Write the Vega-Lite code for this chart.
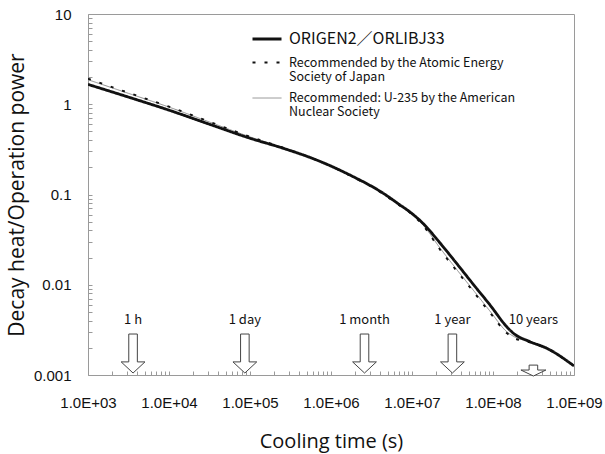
{
  "$schema": "https://vega.github.io/schema/vega-lite/v6.json",
  "width": 486,
  "height": 361,
  "autosize": {"type": "none"},
  "padding": {"left": 88, "top": 14, "right": 31, "bottom": 79},
  "background": "white",
  "config": {
    "view": {"stroke": "#9a9a9a", "strokeWidth": 1},
    "font": "Noto Sans CJK JP",
    "style": {"guide-label": {"lineHeight": 14}}
  },
  "datasets": {
    "curves": [
      {"series": "Recommended: U-235 by the American Nuclear Society", "t": 1000, "v": 1.87},
      {"series": "Recommended: U-235 by the American Nuclear Society", "t": 3162, "v": 1.32},
      {"series": "Recommended: U-235 by the American Nuclear Society", "t": 10000, "v": 0.93},
      {"series": "Recommended: U-235 by the American Nuclear Society", "t": 31623, "v": 0.635},
      {"series": "Recommended: U-235 by the American Nuclear Society", "t": 100000, "v": 0.435},
      {"series": "Recommended: U-235 by the American Nuclear Society", "t": 258000, "v": 0.328},
      {"series": "Recommended: U-235 by the American Nuclear Society", "t": 665000, "v": 0.241},
      {"series": "Recommended: U-235 by the American Nuclear Society", "t": 1720000, "v": 0.163},
      {"series": "Recommended: U-235 by the American Nuclear Society", "t": 4430000, "v": 0.102},
      {"series": "Recommended: U-235 by the American Nuclear Society", "t": 7100000, "v": 0.0755},
      {"series": "Recommended: U-235 by the American Nuclear Society", "t": 9440000, "v": 0.0632},
      {"series": "Recommended: U-235 by the American Nuclear Society", "t": 13700000, "v": 0.046},
      {"series": "Recommended: U-235 by the American Nuclear Society", "t": 22200000, "v": 0.0255},
      {"series": "Recommended: U-235 by the American Nuclear Society", "t": 36000000, "v": 0.0146},
      {"series": "Recommended: U-235 by the American Nuclear Society", "t": 56600000, "v": 0.0088},
      {"series": "Recommended: U-235 by the American Nuclear Society", "t": 91800000, "v": 0.0051},
      {"series": "Recommended: U-235 by the American Nuclear Society", "t": 149000000, "v": 0.003},
      {"series": "Recommended: U-235 by the American Nuclear Society", "t": 177000000, "v": 0.0027},
      {"series": "Recommended: U-235 by the American Nuclear Society", "t": 286000000, "v": 0.00232},
      {"series": "Recommended: U-235 by the American Nuclear Society", "t": 460000000, "v": 0.00197},
      {"series": "Recommended: U-235 by the American Nuclear Society", "t": 1000000000, "v": 0.00126},
      {"series": "ORIGEN2／ORLIBJ33", "t": 1000, "v": 1.66},
      {"series": "ORIGEN2／ORLIBJ33", "t": 3162, "v": 1.2},
      {"series": "ORIGEN2／ORLIBJ33", "t": 10000, "v": 0.86},
      {"series": "ORIGEN2／ORLIBJ33", "t": 31623, "v": 0.6},
      {"series": "ORIGEN2／ORLIBJ33", "t": 100000, "v": 0.42},
      {"series": "ORIGEN2／ORLIBJ33", "t": 258000, "v": 0.325},
      {"series": "ORIGEN2／ORLIBJ33", "t": 665000, "v": 0.241},
      {"series": "ORIGEN2／ORLIBJ33", "t": 1720000, "v": 0.164},
      {"series": "ORIGEN2／ORLIBJ33", "t": 4430000, "v": 0.103},
      {"series": "ORIGEN2／ORLIBJ33", "t": 7100000, "v": 0.0766},
      {"series": "ORIGEN2／ORLIBJ33", "t": 9440000, "v": 0.064},
      {"series": "ORIGEN2／ORLIBJ33", "t": 13700000, "v": 0.0478},
      {"series": "ORIGEN2／ORLIBJ33", "t": 22200000, "v": 0.029},
      {"series": "ORIGEN2／ORLIBJ33", "t": 36000000, "v": 0.017},
      {"series": "ORIGEN2／ORLIBJ33", "t": 56600000, "v": 0.0102},
      {"series": "ORIGEN2／ORLIBJ33", "t": 91800000, "v": 0.00597},
      {"series": "ORIGEN2／ORLIBJ33", "t": 149000000, "v": 0.0034},
      {"series": "ORIGEN2／ORLIBJ33", "t": 177000000, "v": 0.00292},
      {"series": "ORIGEN2／ORLIBJ33", "t": 286000000, "v": 0.00234},
      {"series": "ORIGEN2／ORLIBJ33", "t": 460000000, "v": 0.00198},
      {"series": "ORIGEN2／ORLIBJ33", "t": 1000000000, "v": 0.00126},
      {"series": "Recommended by the Atomic Energy Society of Japan", "t": 1000, "v": 1.92},
      {"series": "Recommended by the Atomic Energy Society of Japan", "t": 3162, "v": 1.34},
      {"series": "Recommended by the Atomic Energy Society of Japan", "t": 10000, "v": 0.94},
      {"series": "Recommended by the Atomic Energy Society of Japan", "t": 31623, "v": 0.64},
      {"series": "Recommended by the Atomic Energy Society of Japan", "t": 100000, "v": 0.437},
      {"series": "Recommended by the Atomic Energy Society of Japan", "t": 258000, "v": 0.329},
      {"series": "Recommended by the Atomic Energy Society of Japan", "t": 665000, "v": 0.241},
      {"series": "Recommended by the Atomic Energy Society of Japan", "t": 1720000, "v": 0.162},
      {"series": "Recommended by the Atomic Energy Society of Japan", "t": 4430000, "v": 0.101},
      {"series": "Recommended by the Atomic Energy Society of Japan", "t": 7100000, "v": 0.075},
      {"series": "Recommended by the Atomic Energy Society of Japan", "t": 9440000, "v": 0.0628},
      {"series": "Recommended by the Atomic Energy Society of Japan", "t": 13700000, "v": 0.0455},
      {"series": "Recommended by the Atomic Energy Society of Japan", "t": 22200000, "v": 0.0245},
      {"series": "Recommended by the Atomic Energy Society of Japan", "t": 36000000, "v": 0.0141},
      {"series": "Recommended by the Atomic Energy Society of Japan", "t": 56600000, "v": 0.0085},
      {"series": "Recommended by the Atomic Energy Society of Japan", "t": 91800000, "v": 0.0049},
      {"series": "Recommended by the Atomic Energy Society of Japan", "t": 149000000, "v": 0.0029},
      {"series": "Recommended by the Atomic Energy Society of Japan", "t": 177000000, "v": 0.0026},
      {"series": "Recommended by the Atomic Energy Society of Japan", "t": 286000000, "v": 0.0023},
      {"series": "Recommended by the Atomic Energy Society of Japan", "t": 460000000, "v": 0.00196},
      {"series": "Recommended by the Atomic Energy Society of Japan", "t": 1000000000, "v": 0.00126}
    ],
    "marks": [
      {"t": 3600, "label": "1 h"},
      {"t": 86400, "label": "1 day"},
      {"t": 2592000, "label": "1 month"},
      {"t": 31536000, "label": "1 year"},
      {"t": 315360000, "label": "10 years"}
    ]
  },
  "layer": [
    {
      "data": {"name": "curves"},
      "mark": {"type": "line", "interpolate": "monotone", "clip": true},
      "encoding": {
        "x": {
          "field": "t",
          "type": "quantitative",
          "scale": {"type": "log", "domain": [1000, 1000000000]},
          "axis": {
            "orient": "bottom",
            "values": [1000,2000,3000,4000,5000,6000,7000,8000,9000,10000,20000,30000,40000,50000,60000,70000,80000,90000,100000,200000,300000,400000,500000,600000,700000,800000,900000,1000000,2000000,3000000,4000000,5000000,6000000,7000000,8000000,9000000,10000000,20000000,30000000,40000000,50000000,60000000,70000000,80000000,90000000,100000000,200000000,300000000,400000000,500000000,600000000,700000000,800000000,900000000,1000000000],
            "labelExpr": "abs(log(datum.value)/LN10 - round(log(datum.value)/LN10)) < 0.001 ? '1.0E+0' + round(log(datum.value)/LN10) : ''",
            "tickSize": -4,
            "tickColor": "#9a9a9a",
            "domain": false,
            "grid": false,
            "labelFlush": false,
            "labelOverlap": false,
            "labelFont": "Liberation Sans",
            "labelFontSize": 15,
            "labelColor": "#111111",
            "labelPadding": 24,
            "title": "Cooling time (s)",
            "titleFont": "Open Sans",
            "titleFontSize": 20,
            "titleFontWeight": "normal",
            "titleColor": "#111111",
            "titlePadding": 21
          }
        },
        "y": {
          "field": "v",
          "type": "quantitative",
          "scale": {"type": "log", "domain": [0.001, 10]},
          "axis": {
            "orient": "left",
            "values": [0.001,0.002,0.003,0.004,0.005,0.006,0.007,0.008,0.009,0.01,0.02,0.03,0.04,0.05,0.06,0.07,0.08,0.09,0.1,0.2,0.3,0.4,0.5,0.6,0.7,0.8,0.9,1,2,3,4,5,6,7,8,9,10],
            "labelExpr": "abs(log(datum.value)/LN10 - round(log(datum.value)/LN10)) < 0.001 ? format(datum.value, '~g') : ''",
            "tickSize": -4,
            "tickColor": "#9a9a9a",
            "domain": false,
            "grid": false,
            "labelFlush": false,
            "labelOverlap": false,
            "labelFont": "Liberation Sans",
            "labelFontSize": 15,
            "labelColor": "#111111",
            "labelPadding": 21,
            "title": "Decay heat/Operation power",
            "titleFont": "Open Sans",
            "titleFontSize": 21,
            "titleFontWeight": "normal",
            "titleColor": "#111111",
            "titlePadding": 6
          }
        },
        "color": {
          "field": "series",
          "type": "nominal",
          "scale": {
            "domain": ["ORIGEN2／ORLIBJ33", "Recommended by the Atomic Energy Society of Japan", "Recommended: U-235 by the American Nuclear Society"],
            "range": ["#111111", "#111111", "#8c8c8c"]
          },
          "legend": {
            "title": null,
            "orient": "none",
            "legendX": 163,
            "legendY": 9,
            "padding": 0,
            "symbolType": "stroke",
            "symbolSize": 841,
            "labelFont": "Noto Sans CJK JP",
            "labelFontSize": {"expr": "datum.value == 'ORIGEN2／ORLIBJ33' ? 16 : 12.5"},
            "labelColor": "#111111",
            "labelLimit": 400,
            "labelOffset": 6,
            "rowPadding": 0,
            "labelExpr": "datum.label == 'Recommended by the Atomic Energy Society of Japan' ? ['Recommended by the Atomic Energy', 'Society of Japan'] : datum.label == 'Recommended: U-235 by the American Nuclear Society' ? ['Recommended: U-235 by the American', 'Nuclear Society'] : datum.label"
          }
        },
        "strokeDash": {
          "field": "series",
          "type": "nominal",
          "scale": {
            "domain": ["ORIGEN2／ORLIBJ33", "Recommended by the Atomic Energy Society of Japan", "Recommended: U-235 by the American Nuclear Society"],
            "range": [[1, 0], [3, 9], [1, 0]]
          }
        },
        "strokeWidth": {
          "field": "series",
          "type": "nominal",
          "scale": {
            "type": "point",
            "domain": ["ORIGEN2／ORLIBJ33", "Recommended by the Atomic Energy Society of Japan", "Recommended: U-235 by the American Nuclear Society"],
            "range": [2.8, 1]
          }
        }
      }
    },
    {
      "data": {"name": "marks"},
      "transform": [{"filter": "datum.label != '10 years'"}],
      "mark": {
        "type": "point",
        "shape": "M -0.22 -1 L 0.22 -1 L 0.22 0.43 L 0.61 0.43 L 0 1 L -0.61 0.43 L -0.22 0.43 Z",
        "size": 1521,
        "filled": true,
        "fill": "white",
        "stroke": "#444444",
        "strokeWidth": 1,
        "opacity": 1
      },
      "encoding": {
        "x": {"field": "t", "type": "quantitative"},
        "y": {"datum": 0.00173}
      }
    },
    {
      "data": {"name": "marks"},
      "transform": [{"filter": "datum.label == '10 years'"}],
      "mark": {
        "type": "point",
        "shape": "M -0.33 -0.42 L 0.33 -0.42 L 0.33 -0.04 L 0.96 -0.04 L 0 0.42 L -0.96 -0.04 L -0.33 -0.04 Z",
        "size": 676,
        "filled": true,
        "fill": "white",
        "stroke": "#444444",
        "strokeWidth": 1,
        "opacity": 1
      },
      "encoding": {
        "x": {"field": "t", "type": "quantitative"},
        "y": {"datum": 0.00112}
      }
    },
    {
      "data": {"name": "marks"},
      "mark": {"type": "text", "font": "Noto Sans CJK JP", "fontSize": 13, "color": "#111111", "baseline": "middle", "align": "center"},
      "encoding": {
        "x": {"field": "t", "type": "quantitative"},
        "y": {"datum": 0.00407},
        "text": {"field": "label"}
      }
    }
  ]
}
